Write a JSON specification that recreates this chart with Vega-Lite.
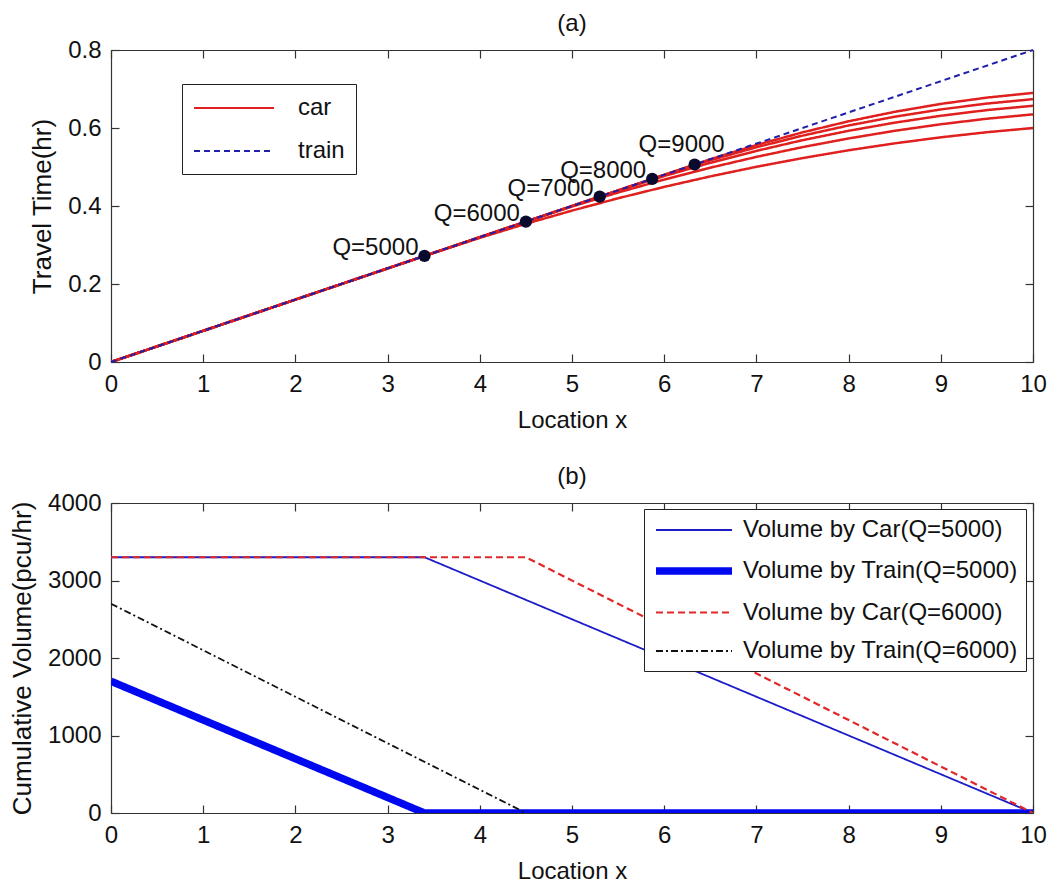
{
  "$schema": "https://vega.github.io/schema/vega-lite/v6.json",
  "padding": {"left": 9, "top": 12, "right": 12, "bottom": 2},
  "background": "white",
  "spacing": 33,
  "resolve": {
    "scale": {"color": "independent", "strokeDash": "independent", "strokeWidth": "independent", "x": "independent", "y": "independent"},
    "legend": {"color": "independent", "strokeDash": "independent", "strokeWidth": "independent"}
  },
  "config": {
    "font": "Liberation Sans",
    "view": {"stroke": null},
    "legend": {"labelLimit": 0},
    "axis": {
      "grid": false,
      "domainColor": "#333333",
      "domainWidth": 1.2,
      "tickColor": "#333333",
      "tickSize": -8,
      "tickWidth": 1.2,
      "labelPadding": 18,
      "labelFont": "Liberation Sans",
      "labelFontSize": 24,
      "labelColor": "#111111",
      "labelFlush": false,
      "labelOverlap": false,
      "titleFont": "Liberation Sans",
      "titleFontSize": 24,
      "titleFontWeight": "normal",
      "titleColor": "#111111",
      "titlePadding": 12
    },
    "title": {"font": "Liberation Sans", "fontSize": 24, "fontWeight": "normal", "color": "#111111", "offset": 2, "frame": "group"}
  },
  "datasets": {
    "train": [
      {"x": 0, "y": 0, "type": "train"},
      {"x": 10, "y": 0.8, "type": "train"}
    ],
    "car": [
      {"q": 5000, "x": 0, "y": 0, "type": "car"},
      {"q": 5000, "x": 3.4, "y": 0.272, "type": "car"},
      {"q": 5000, "x": 4, "y": 0.3183, "type": "car"},
      {"q": 5000, "x": 4.5, "y": 0.3544, "type": "car"},
      {"q": 5000, "x": 5, "y": 0.3882, "type": "car"},
      {"q": 5000, "x": 5.5, "y": 0.4198, "type": "car"},
      {"q": 5000, "x": 6, "y": 0.449, "type": "car"},
      {"q": 5000, "x": 6.5, "y": 0.4759, "type": "car"},
      {"q": 5000, "x": 7, "y": 0.5005, "type": "car"},
      {"q": 5000, "x": 7.5, "y": 0.5228, "type": "car"},
      {"q": 5000, "x": 8, "y": 0.5429, "type": "car"},
      {"q": 5000, "x": 8.5, "y": 0.5606, "type": "car"},
      {"q": 5000, "x": 9, "y": 0.5761, "type": "car"},
      {"q": 5000, "x": 9.5, "y": 0.5892, "type": "car"},
      {"q": 5000, "x": 10, "y": 0.6, "type": "car"},
      {"q": 6000, "x": 0, "y": 0, "type": "car"},
      {"q": 6000, "x": 4.5, "y": 0.36, "type": "car"},
      {"q": 6000, "x": 5, "y": 0.3986, "type": "car"},
      {"q": 6000, "x": 5.5, "y": 0.4346, "type": "car"},
      {"q": 6000, "x": 6, "y": 0.4677, "type": "car"},
      {"q": 6000, "x": 6.5, "y": 0.4982, "type": "car"},
      {"q": 6000, "x": 7, "y": 0.5259, "type": "car"},
      {"q": 6000, "x": 7.5, "y": 0.551, "type": "car"},
      {"q": 6000, "x": 8, "y": 0.5732, "type": "car"},
      {"q": 6000, "x": 8.5, "y": 0.5928, "type": "car"},
      {"q": 6000, "x": 9, "y": 0.6096, "type": "car"},
      {"q": 6000, "x": 9.5, "y": 0.6238, "type": "car"},
      {"q": 6000, "x": 10, "y": 0.635, "type": "car"},
      {"q": 7000, "x": 0, "y": 0, "type": "car"},
      {"q": 7000, "x": 5.3, "y": 0.424, "type": "car"},
      {"q": 7000, "x": 5.5, "y": 0.4397, "type": "car"},
      {"q": 7000, "x": 6, "y": 0.4768, "type": "car"},
      {"q": 7000, "x": 6.5, "y": 0.5107, "type": "car"},
      {"q": 7000, "x": 7, "y": 0.5413, "type": "car"},
      {"q": 7000, "x": 7.5, "y": 0.5687, "type": "car"},
      {"q": 7000, "x": 8, "y": 0.5928, "type": "car"},
      {"q": 7000, "x": 8.5, "y": 0.6137, "type": "car"},
      {"q": 7000, "x": 9, "y": 0.6314, "type": "car"},
      {"q": 7000, "x": 9.5, "y": 0.6459, "type": "car"},
      {"q": 7000, "x": 10, "y": 0.657, "type": "car"},
      {"q": 8000, "x": 0, "y": 0, "type": "car"},
      {"q": 8000, "x": 5.87, "y": 0.4696, "type": "car"},
      {"q": 8000, "x": 6, "y": 0.4799, "type": "car"},
      {"q": 8000, "x": 6.5, "y": 0.5171, "type": "car"},
      {"q": 8000, "x": 7, "y": 0.5506, "type": "car"},
      {"q": 8000, "x": 7.5, "y": 0.5804, "type": "car"},
      {"q": 8000, "x": 8, "y": 0.6065, "type": "car"},
      {"q": 8000, "x": 8.5, "y": 0.6289, "type": "car"},
      {"q": 8000, "x": 9, "y": 0.6476, "type": "car"},
      {"q": 8000, "x": 9.5, "y": 0.6626, "type": "car"},
      {"q": 8000, "x": 10, "y": 0.674, "type": "car"},
      {"q": 9000, "x": 0, "y": 0, "type": "car"},
      {"q": 9000, "x": 6.33, "y": 0.5064, "type": "car"},
      {"q": 9000, "x": 6.5, "y": 0.5198, "type": "car"},
      {"q": 9000, "x": 7, "y": 0.5563, "type": "car"},
      {"q": 9000, "x": 7.5, "y": 0.5888, "type": "car"},
      {"q": 9000, "x": 8, "y": 0.6172, "type": "car"},
      {"q": 9000, "x": 8.5, "y": 0.6415, "type": "car"},
      {"q": 9000, "x": 9, "y": 0.6618, "type": "car"},
      {"q": 9000, "x": 9.5, "y": 0.6779, "type": "car"},
      {"q": 9000, "x": 10, "y": 0.69, "type": "car"}
    ],
    "dots": [
      {"x": 3.4, "y": 0.272, "label": "Q=5000"},
      {"x": 4.5, "y": 0.36, "label": "Q=6000"},
      {"x": 5.3, "y": 0.424, "label": "Q=7000"},
      {"x": 5.87, "y": 0.4696, "label": "Q=8000"},
      {"x": 6.33, "y": 0.5064, "label": "Q=9000"}
    ],
    "vol": [
      {"series": "Volume by Car(Q=5000)", "x": 0, "v": 3300},
      {"series": "Volume by Car(Q=5000)", "x": 3.4, "v": 3300},
      {"series": "Volume by Car(Q=5000)", "x": 10, "v": 0},
      {"series": "Volume by Train(Q=5000)", "x": 0, "v": 1700},
      {"series": "Volume by Train(Q=5000)", "x": 3.4, "v": 0},
      {"series": "Volume by Train(Q=5000)", "x": 10, "v": 0},
      {"series": "Volume by Car(Q=6000)", "x": 0, "v": 3300},
      {"series": "Volume by Car(Q=6000)", "x": 4.5, "v": 3300},
      {"series": "Volume by Car(Q=6000)", "x": 10, "v": 0},
      {"series": "Volume by Train(Q=6000)", "x": 0, "v": 2700},
      {"series": "Volume by Train(Q=6000)", "x": 4.5, "v": 0}
    ]
  },
  "vconcat": [
    {
      "width": 922,
      "height": 312,
      "title": {"text": "(a)"},
      "layer": [
        {
          "data": {"name": "car"},
          "mark": {"type": "line", "strokeWidth": 2.5, "clip": true},
          "encoding": {
            "x": {"field": "x", "type": "quantitative", "scale": {"domain": [0, 10], "nice": false},
                  "axis": {"orient": "top", "labels": false, "title": null, "values": [0,1,2,3,4,5,6,7,8,9,10]}},
            "y": {"field": "y", "type": "quantitative", "scale": {"domain": [0, 0.8], "nice": false},
                  "axis": {"orient": "right", "labels": false, "title": null, "values": [0,0.2,0.4,0.6,0.8]}},
            "color": {"field": "type", "type": "nominal", "scale": {"domain": ["car", "train"], "range": ["#e01f1f", "#1f1fa8"]},
                      "legend": {"title": null, "orient": "none", "legendX": 71, "legendY": 34, "direction": "vertical", "symbolType": "M-1,0H5.667", "symbolSize": 576, "symbolStrokeWidth": 2, "labelFontSize": 24, "labelFont": "Liberation Sans", "labelColor": "#111111", "labelOffset": 79, "rowPadding": 18, "padding": 11, "strokeColor": "#222222", "fillColor": "white"}},
            "strokeDash": {"field": "type", "type": "nominal", "scale": {"domain": ["car", "train"], "range": [[1, 0], [6, 4]]},
                      "legend": {"title": null, "orient": "none", "legendX": 71, "legendY": 34, "direction": "vertical", "symbolType": "M-1,0H5.667", "symbolSize": 576, "symbolStrokeWidth": 2, "labelFontSize": 24, "labelFont": "Liberation Sans", "labelColor": "#111111", "labelOffset": 79, "rowPadding": 18, "padding": 11, "strokeColor": "#222222", "fillColor": "white"}},
            "detail": {"field": "q", "type": "nominal"}
          }
        },
        {
          "data": {"name": "train"},
          "mark": {"type": "line", "strokeWidth": 2},
          "encoding": {
            "x": {"field": "x", "type": "quantitative", "scale": {"domain": [0, 10], "nice": false},
                  "axis": {"orient": "bottom", "title": "Location x", "values": [0,1,2,3,4,5,6,7,8,9,10], "format": "d"}},
            "y": {"field": "y", "type": "quantitative", "scale": {"domain": [0, 0.8], "nice": false},
                  "axis": {"orient": "left", "title": "Travel Time(hr)", "titleFontSize": 26, "values": [0,0.2,0.4,0.6,0.8], "format": ".1~f"}},
            "color": {"field": "type", "type": "nominal", "scale": {"domain": ["car", "train"], "range": ["#e01f1f", "#1f1fa8"]},
                      "legend": {"title": null, "orient": "none", "legendX": 71, "legendY": 34, "direction": "vertical", "symbolType": "M-1,0H5.667", "symbolSize": 576, "symbolStrokeWidth": 2, "labelFontSize": 24, "labelFont": "Liberation Sans", "labelColor": "#111111", "labelOffset": 79, "rowPadding": 18, "padding": 11, "strokeColor": "#222222", "fillColor": "white"}},
            "strokeDash": {"field": "type", "type": "nominal", "scale": {"domain": ["car", "train"], "range": [[1, 0], [6, 4]]},
                      "legend": {"title": null, "orient": "none", "legendX": 71, "legendY": 34, "direction": "vertical", "symbolType": "M-1,0H5.667", "symbolSize": 576, "symbolStrokeWidth": 2, "labelFontSize": 24, "labelFont": "Liberation Sans", "labelColor": "#111111", "labelOffset": 79, "rowPadding": 18, "padding": 11, "strokeColor": "#222222", "fillColor": "white"}}
          }
        },
        {
          "data": {"name": "dots"},
          "mark": {"type": "circle", "size": 150, "color": "#0a0a2e", "opacity": 1},
          "encoding": {
            "x": {"field": "x", "type": "quantitative", "axis": null},
            "y": {"field": "y", "type": "quantitative", "axis": null}
          }
        },
        {
          "data": {"name": "dots"},
          "transform": [{"filter": "datum.label != 'Q=9000'"}],
          "mark": {"type": "text", "align": "right", "baseline": "alphabetic", "dx": -6, "dy": -1, "fontSize": 24, "font": "Liberation Sans", "color": "#111111"},
          "encoding": {
            "x": {"field": "x", "type": "quantitative", "axis": null},
            "y": {"field": "y", "type": "quantitative", "axis": null},
            "text": {"field": "label"}
          }
        },
        {
          "data": {"name": "dots"},
          "transform": [{"filter": "datum.label == 'Q=9000'"}],
          "mark": {"type": "text", "align": "center", "baseline": "alphabetic", "dx": -13, "dy": -13, "fontSize": 24, "font": "Liberation Sans", "color": "#111111"},
          "encoding": {
            "x": {"field": "x", "type": "quantitative", "axis": null},
            "y": {"field": "y", "type": "quantitative", "axis": null},
            "text": {"field": "label"}
          }
        }
      ],
      "resolve": {"axis": {"x": "independent", "y": "independent"}}
    },
    {
      "width": 922,
      "height": 310,
      "title": {"text": "(b)"},
      "data": {"name": "vol"},
      "layer": [
        {
          "mark": {"type": "line", "clip": true},
          "encoding": {
            "x": {"field": "x", "type": "quantitative", "scale": {"domain": [0, 10], "nice": false},
                  "axis": {"orient": "bottom", "title": "Location x", "values": [0,1,2,3,4,5,6,7,8,9,10], "format": "d"}},
            "y": {"field": "v", "type": "quantitative", "scale": {"domain": [0, 4000], "nice": false},
                  "axis": {"orient": "left", "title": "Cumulative Volume(pcu/hr)", "titleFontSize": 26, "values": [0,1000,2000,3000,4000], "format": "d"}},
            "color": {"field": "series", "type": "nominal",
                      "scale": {"domain": ["Volume by Car(Q=5000)", "Volume by Train(Q=5000)", "Volume by Car(Q=6000)", "Volume by Train(Q=6000)"], "range": ["#1c1cc8", "#0008f0", "#e02828", "#111111"]},
                      "legend": {"title": null, "orient": "none", "legendX": 533, "legendY": 6, "direction": "vertical", "symbolType": "M-1,0H5.333", "symbolSize": 576, "labelFontSize": 24, "labelFont": "Liberation Sans", "labelColor": "#111111", "labelOffset": 59, "rowPadding": 13, "padding": 8, "strokeColor": "#222222", "fillColor": "white"}},
            "strokeDash": {"field": "series", "type": "nominal",
                      "scale": {"domain": ["Volume by Car(Q=5000)", "Volume by Train(Q=5000)", "Volume by Car(Q=6000)", "Volume by Train(Q=6000)"], "range": [[1, 0], [1, 0], [7, 4], [7, 3, 2, 3]]},
                      "legend": {"title": null, "orient": "none", "legendX": 533, "legendY": 6, "direction": "vertical", "symbolType": "M-1,0H5.333", "symbolSize": 576, "labelFontSize": 24, "labelFont": "Liberation Sans", "labelColor": "#111111", "labelOffset": 59, "rowPadding": 13, "padding": 8, "strokeColor": "#222222", "fillColor": "white"}},
            "strokeWidth": {"field": "series", "type": "nominal",
                      "scale": {"type": "ordinal", "domain": ["Volume by Car(Q=5000)", "Volume by Train(Q=5000)", "Volume by Car(Q=6000)", "Volume by Train(Q=6000)"], "range": [1.8, 7.5, 2.2, 1.8]},
                      "legend": {"title": null, "orient": "none", "legendX": 533, "legendY": 6, "direction": "vertical", "symbolType": "M-1,0H5.333", "symbolSize": 576, "labelFontSize": 24, "labelFont": "Liberation Sans", "labelColor": "#111111", "labelOffset": 59, "rowPadding": 13, "padding": 8, "strokeColor": "#222222", "fillColor": "white"}}
          }
        },
        {
          "mark": {"type": "point", "opacity": 0},
          "encoding": {
            "x": {"field": "x", "type": "quantitative", "scale": {"domain": [0, 10], "nice": false},
                  "axis": {"orient": "top", "labels": false, "title": null, "values": [0,1,2,3,4,5,6,7,8,9,10]}},
            "y": {"field": "v", "type": "quantitative", "scale": {"domain": [0, 4000], "nice": false},
                  "axis": {"orient": "right", "labels": false, "title": null, "values": [0,1000,2000,3000,4000]}}
          }
        }
      ],
      "resolve": {"axis": {"x": "independent", "y": "independent"}}
    }
  ]
}
